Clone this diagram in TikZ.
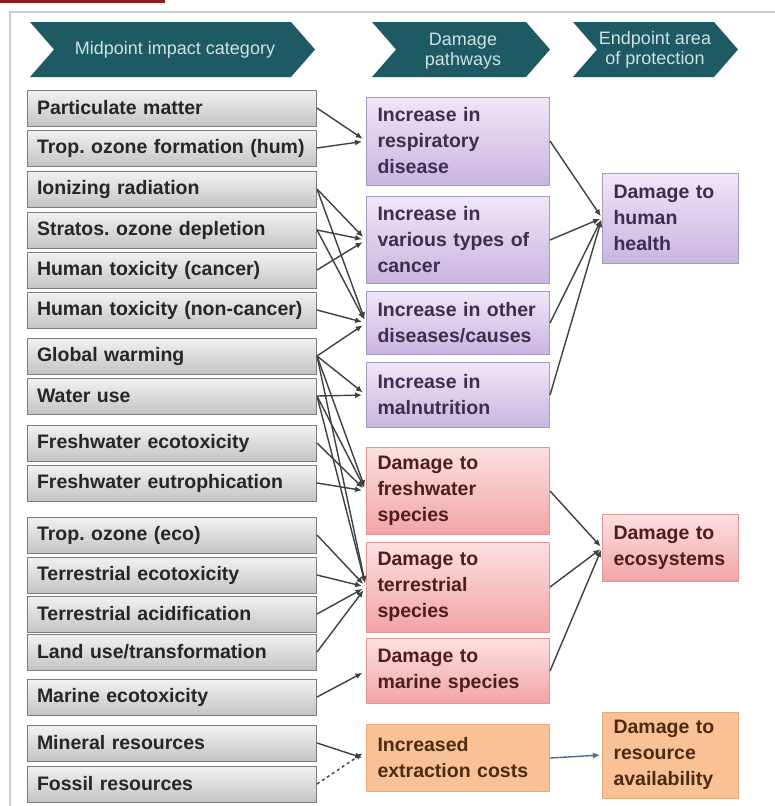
\documentclass[tikz,border=0pt]{standalone}
\usepackage{fontspec}
\setmainfont{Liberation Sans}
\usetikzlibrary{arrows.meta}

\definecolor{hdrteal}{HTML}{1E5A64}
\definecolor{hdrtext}{HTML}{CFE2E2}
\definecolor{framegrey}{HTML}{C8CCD0}
\definecolor{topred}{HTML}{8E1E1E}
\definecolor{linkgrey}{HTML}{404040}
\definecolor{linkblue}{HTML}{4A6A9A}
\definecolor{greytop}{HTML}{F2F2F2}
\definecolor{greybot}{HTML}{C4C4C4}
\definecolor{greyline}{HTML}{7C7C7C}
\definecolor{purptop}{HTML}{F0E6F8}
\definecolor{purpbot}{HTML}{C9B5E0}
\definecolor{purpline}{HTML}{A898C0}
\definecolor{purptext}{HTML}{3A2F4C}
\definecolor{pinktop}{HTML}{FCE0E0}
\definecolor{pinkbot}{HTML}{F2A4A6}
\definecolor{pinkline}{HTML}{E09496}
\definecolor{pinktext}{HTML}{4E1E1E}
\definecolor{orngfill}{HTML}{F8C296}
\definecolor{orngline}{HTML}{E8A878}
\definecolor{orngtext}{HTML}{4E2A10}

\newcommand{\boxfont}{\fontsize{19.5}{26}\selectfont\bfseries\frenchspacing}
\newcommand{\hdrfont}{\fontsize{18}{20}\selectfont\frenchspacing}

\tikzset{
  midcat/.style={anchor=west, draw=greyline, line width=1pt, top color=greytop, bottom color=greybot,
    minimum width=289pt, minimum height=36pt, text width=270pt, inner xsep=9.5pt, inner ysep=2pt,
    align=left, font=\boxfont, text=black!85},
  pathbox/.style={anchor=west, line width=1pt, minimum width=183pt, text width=161pt, inner xsep=11pt,
    align=left, font=\boxfont},
  endbox/.style={anchor=west, line width=1pt, minimum width=136pt, text width=114pt, inner xsep=11pt,
    align=left, font=\boxfont},
  purp/.style={draw=purpline, top color=purptop, bottom color=purpbot, text=purptext},
  pink/.style={draw=pinkline, top color=pinktop, bottom color=pinkbot, text=pinktext},
  orng/.style={draw=orngline, fill=orngfill, text=orngtext},
  hdrlabel/.style={font=\hdrfont, text=hdrtext, align=center},
  link/.style={draw=linkgrey, line width=1.4pt, -{Latex[length=7pt,width=6pt]}, shorten >=4pt},
}

\begin{document}
\begin{tikzpicture}[x=1pt,y=-1pt]

    \useasboundingbox (0,0) rectangle (775,806);
    \fill[white] (0,0) rectangle (775,806);
    \fill[topred] (0,0) rectangle (165,3);
    \draw[framegrey, line width=1.5pt] (10,806) -- (10,12) -- (775,12);

    % headers
    \fill[hdrteal] (30,22) -- (291,22) -- (315,49.5) -- (291,77) -- (30,77) -- (54,49.5) -- cycle;
    \fill[hdrteal] (372,22) -- (526,22) -- (550,49.5) -- (526,77) -- (372,77) -- (396,49.5) -- cycle;
    \fill[hdrteal] (573,22) -- (714,22) -- (738,49.5) -- (714,77) -- (573,77) -- (597,49.5) -- cycle;
    \node[hdrlabel] (h1) at (175,50) {Midpoint impact category};
    \node[hdrlabel] (h2) at (463,51) {Damage\\pathways};
    \node[hdrlabel] (h3) at (655,50) {Endpoint area\\of protection};

    % midpoint categories
    \node[midcat] (m1) at (27,108) {Particulate matter};
    \node[midcat] (m2) at (27,148) {Trop. ozone formation (hum)};
    \node[midcat] (m3) at (27,189) {Ionizing radiation};
    \node[midcat] (m4) at (27,230) {Stratos. ozone depletion};
    \node[midcat] (m5) at (27,270) {Human toxicity (cancer)};
    \node[midcat] (m6) at (27,310) {Human toxicity (non-cancer)};
    \node[midcat] (m7) at (27,356) {Global warming};
    \node[midcat] (m8) at (27,396) {Water use};
    \node[midcat] (m9) at (27,443) {Freshwater ecotoxicity};
    \node[midcat] (m10) at (27,483) {Freshwater eutrophication};
    \node[midcat] (m11) at (27,535) {Trop. ozone (eco)};
    \node[midcat] (m12) at (27,575) {Terrestrial ecotoxicity};
    \node[midcat] (m13) at (27,614) {Terrestrial acidification};
    \node[midcat] (m14) at (27,652) {Land use/transformation};
    \node[midcat] (m15) at (27,697) {Marine ecotoxicity};
    \node[midcat] (m16) at (27,743) {Mineral resources};
    \node[midcat] (m17) at (27,784) {Fossil resources};

    % damage pathways
    \node[pathbox,purp,minimum height=88pt] (p1) at (366,141) {Increase in\\respiratory\\disease};
    \node[pathbox,purp,minimum height=87pt] (p2) at (366,240) {Increase in\\various types of\\cancer};
    \node[pathbox,purp,minimum height=63pt] (p3) at (366,323) {Increase in other\\diseases/causes};
    \node[pathbox,purp,minimum height=65pt] (p4) at (366,395) {Increase in\\malnutrition};
    \node[pathbox,pink,minimum height=87pt] (p5) at (366,491) {Damage to\\freshwater\\species};
    \node[pathbox,pink,minimum height=90pt] (p6) at (366,587) {Damage to\\terrestrial\\species};
    \node[pathbox,pink,minimum height=65pt] (p7) at (366,671) {Damage to\\marine species};
    \node[pathbox,orng,minimum height=67pt] (p8) at (366,758) {Increased\\extraction costs};

    % endpoints
    \node[endbox,purp,minimum height=90pt] (e1) at (602,218) {Damage to\\human\\health};
    \node[endbox,pink,minimum height=67pt] (e2) at (602,548) {Damage to\\ecosystems};
    \node[endbox,orng,minimum height=86pt] (e3) at (602,755) {Damage to\\resource\\availability};

    % midpoint -> pathway
    \draw[link] (m1.east) -- (p1.west);
    \draw[link] (m2.east) -- (p1.west);
    \draw[link] (m3.east) -- (p2.west);
    \draw[link] (m4.east) -- (p2.west);
    \draw[link] (m5.east) -- (p2.west);
    \draw[link] (m3.east) -- (p3.west);
    \draw[link] (m4.east) -- (p3.west);
    \draw[link] (m6.east) -- (p3.west);
    \draw[link] (m7.east) -- (p3.west);
    \draw[link] (m7.east) -- (p4.west);
    \draw[link] (m8.east) -- (p4.west);
    \draw[link] (m7.east) -- (p5.west);
    \draw[link] (m8.east) -- (p5.west);
    \draw[link] (m9.east) -- (p5.west);
    \draw[link] (m10.east) -- (p5.west);
    \draw[link] (m7.east) -- (p6.west);
    \draw[link] (m8.east) -- (p6.west);
    \draw[link] (m11.east) -- (p6.west);
    \draw[link] (m12.east) -- (p6.west);
    \draw[link] (m13.east) -- (p6.west);
    \draw[link] (m14.east) -- (p6.west);
    \draw[link] (m15.east) -- (p7.west);
    \draw[link] (m16.east) -- ([yshift=-1pt]p8.west);
    \draw[link,dashed] (m17.east) -- ([yshift=7pt]p8.west);

    % pathway -> endpoint
    \draw[link,shorten >=2pt] (p1.east) -- (e1.west);
    \draw[link,shorten >=2pt] (p2.east) -- (e1.west);
    \draw[link,shorten >=2pt] (p3.east) -- (e1.west);
    \draw[link,shorten >=2pt] (p4.east) -- (e1.west);
    \draw[link,shorten >=2pt] (p5.east) -- (e2.west);
    \draw[link,shorten >=2pt] (p6.east) -- (e2.west);
    \draw[link,shorten >=2pt] (p7.east) -- (e2.west);
    \draw[link,linkblue,shorten >=2pt] (p8.east) -- (e3.west);

\end{tikzpicture}
\end{document}
